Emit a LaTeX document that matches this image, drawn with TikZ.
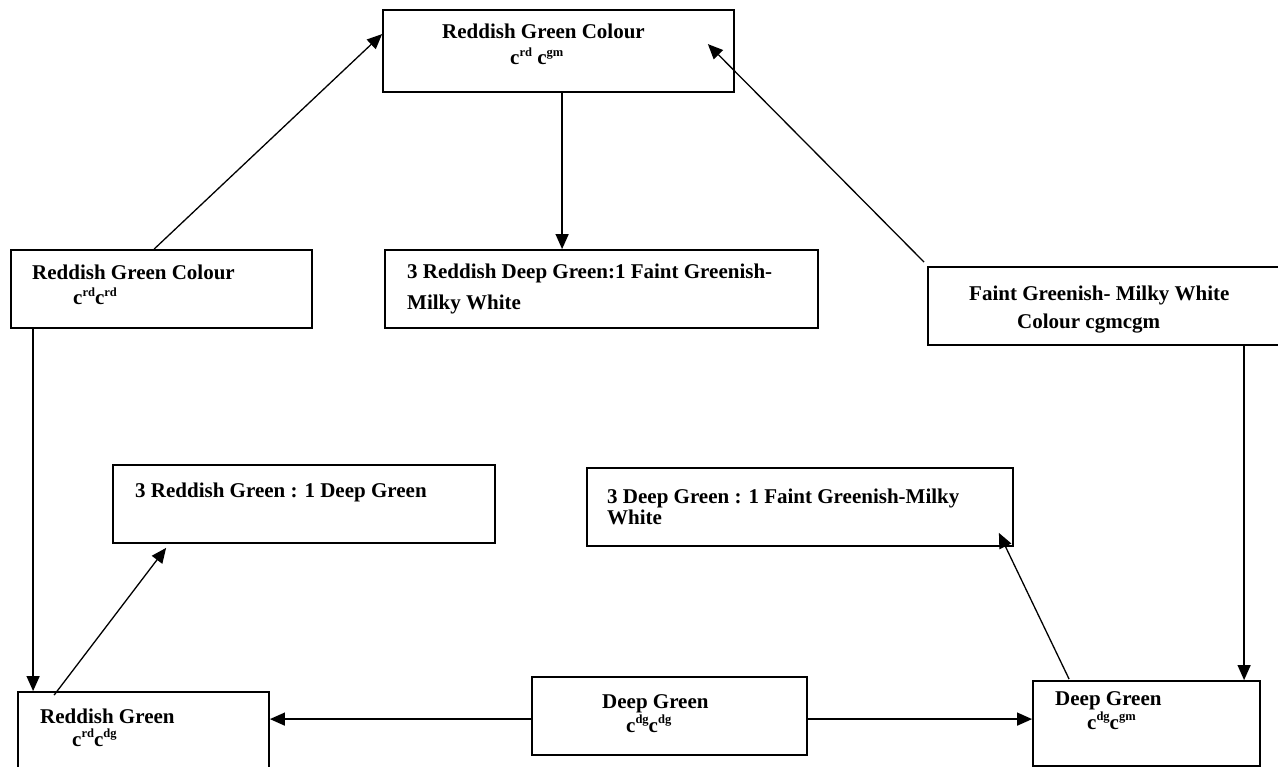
\documentclass[tikz,border=0pt]{standalone}
\usepackage{fontspec}
\setmainfont{Liberation Serif}
\usetikzlibrary{arrows.meta,calc,fit}
\newcommand\sups[1]{\raisebox{8.5pt}{\fontsize{12.5}{12.5}\selectfont\bfseries #1}}
\begin{document}
\begin{tikzpicture}[x=1pt,y=-1pt,
  box/.style={draw, line width=1.8pt, rectangle, inner sep=0pt},
  lbl/.style={anchor=base west, inner sep=0pt, font=\fontsize{21}{24}\selectfont\bfseries},
  arr/.style={-{Triangle[length=15pt,width=13pt]}, line width=1.3pt}]
\useasboundingbox (0,0) rectangle (1278,767);
% boxes
\node[box, fit={(383,10) (734,92)}] (top) {};
\node[box, fit={(11,250) (312,328)}] (lm) {};
\node[box, fit={(385,250) (818,328)}] (mid) {};
\node[box, fit={(928,267) (1295,345)}] (rt) {};
\node[box, fit={(113,465) (495,543)}] (b5) {};
\node[box, fit={(587,468) (1013,546)}] (b6) {};
\node[box, fit={(18,692) (269,795)}] (bl) {};
\node[box, fit={(532,677) (807,755)}] (dgm) {};
\node[box, fit={(1033,681) (1260,766)}] (dgr) {};
% texts
\node[lbl] (t1a) at (442,39) {Reddish Green Colour};
\node[lbl] (t1b) at (510,65) {c\sups{rd} c\sups{gm}};
\node[lbl] (t2a) at (32,280) {Reddish Green Colour};
\node[lbl] (t2b) at (73,305) {c\sups{rd}c\sups{rd}};
\node[lbl] (t3a) at (407,279) {3 Reddish Deep Green:1 Faint Greenish-};
\node[lbl] (t3b) at (407,310) {Milky White};
\node[lbl] (t4a) at (969,301) {Faint Greenish- Milky White};
\node[lbl] (t4b) at (1017,329) {Colour cgmcgm};
\node[lbl] (t5) at (135,497) {3 Reddish Green : 1 Deep Green};
\node[lbl] (t6a) at (607,503) {3 Deep Green : 1 Faint Greenish-Milky};
\node[lbl] (t6b) at (607,524) {White};
\node[lbl] (t7a) at (40,723) {Reddish Green};
\node[lbl] (t7b) at (72,746) {c\sups{rd}c\sups{dg}};
\node[lbl] (t8a) at (602,708) {Deep Green};
\node[lbl] (t8b) at (626,732) {c\sups{dg}c\sups{dg}};
\node[lbl] (t9a) at (1055,705) {Deep Green};
\node[lbl] (t9b) at (1087,729) {c\sups{dg}c\sups{gm}};
% connectors
\draw[arr] ($(lm.north west)+(144,0)$) -- ($(top.north west)+(0,25)$);
\draw[arr] ($(top.south west)+(180,0)$) -- ($(mid.north west)+(178,0)$);
\draw[arr] ($(rt.north west)+(-3,-4)$) -- ($(top.north east)+(-27,35)$);
\draw[arr] ($(lm.south west)+(23,0)$) -- ($(bl.north west)+(16,0)$);
\draw[arr] ($(bl.north west)+(37,4)$) -- ($(b5.south west)+(54,4)$);
\draw[arr] ($(dgm.north west)+(0,43)$) -- ($(bl.north east)+(0,28)$);
\draw[arr] ($(dgm.north east)+(0,43)$) -- ($(dgr.north west)+(0,39)$);
\draw[arr] ($(rt.south west)+(317,0)$) -- ($(dgr.north west)+(212,0)$);
\draw[arr] ($(dgr.north west)+(37,-1)$) -- ($(b6.south east)+(-15,-14)$);
\end{tikzpicture}
\end{document}
